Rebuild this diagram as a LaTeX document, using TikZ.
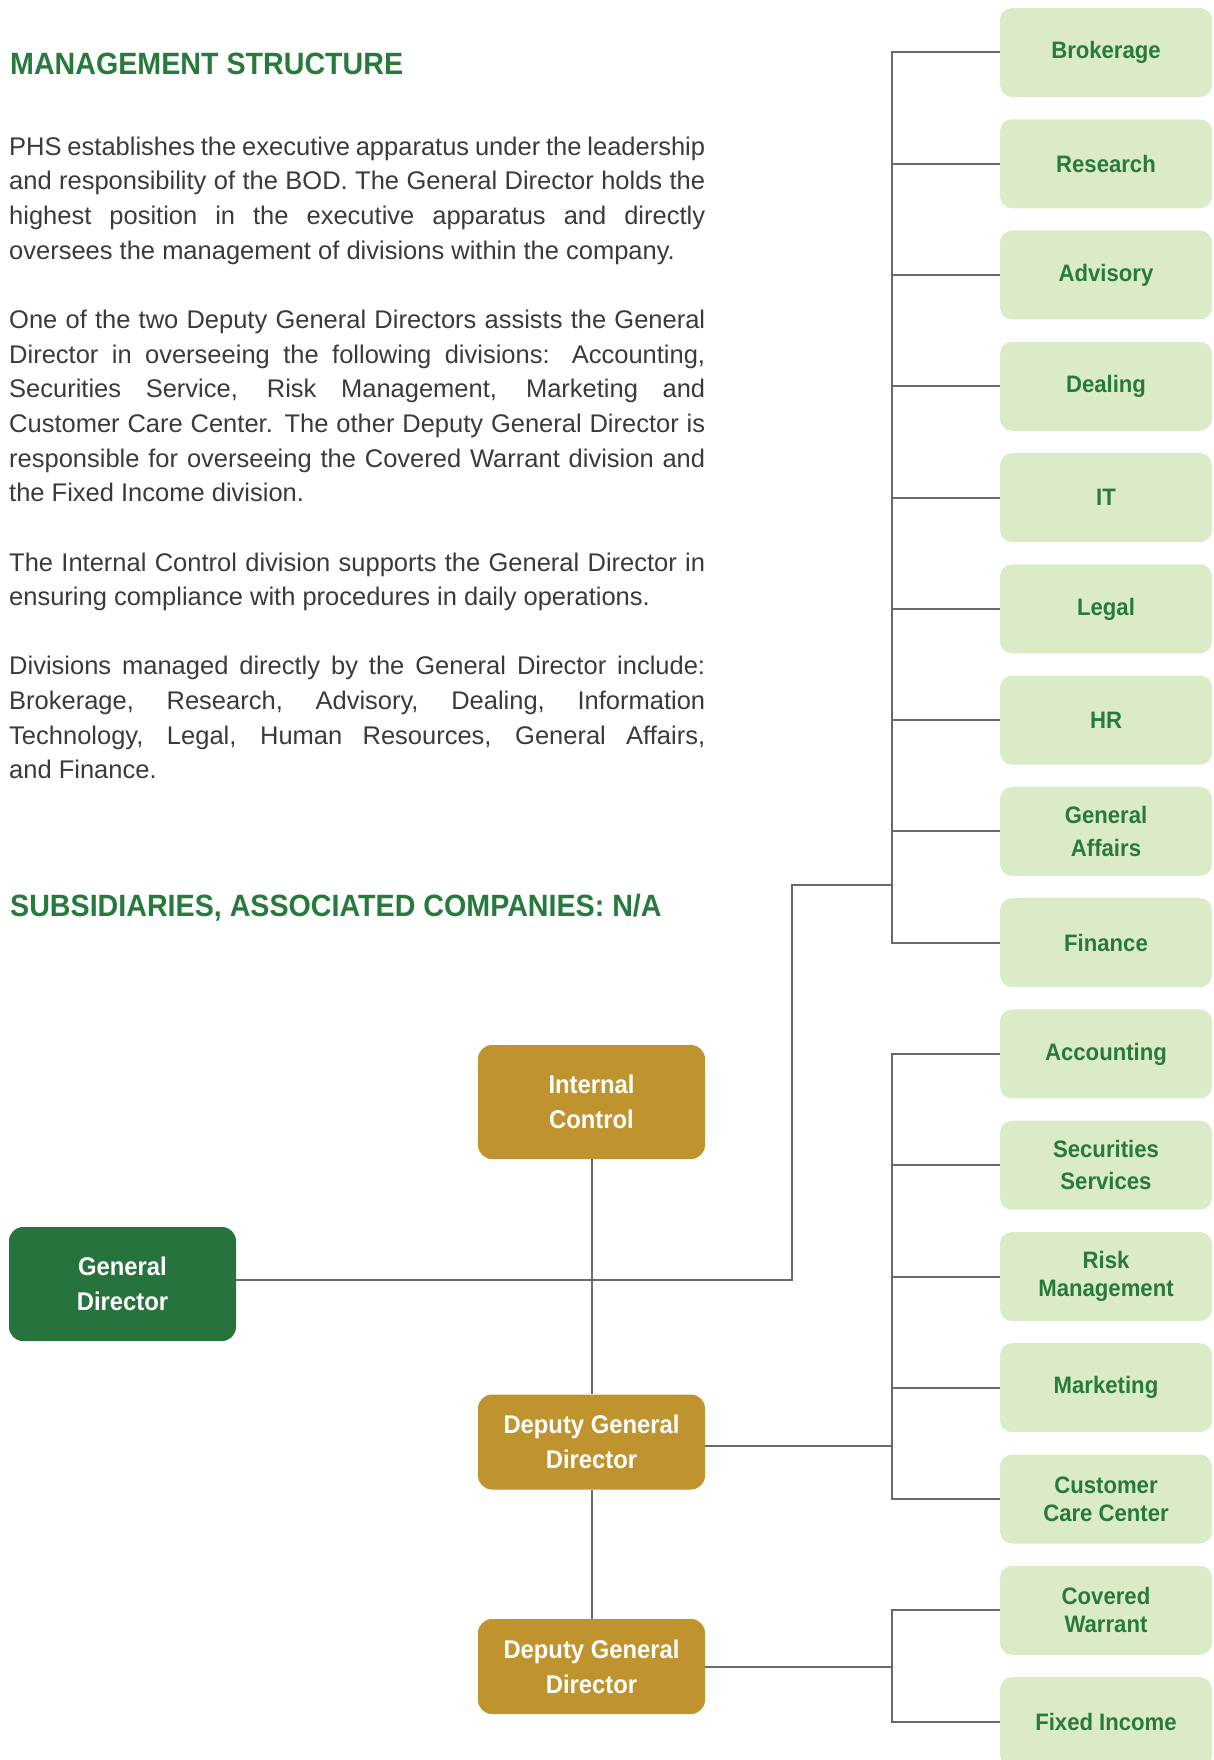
\documentclass[tikz,border=0pt]{standalone}
\usepackage{fontspec}
\setmainfont{Liberation Sans}
\newfontfamily\labelfont{Liberation Sans}[FakeStretch=0.93]
\usetikzlibrary{calc}
\definecolor{dkgreen}{HTML}{26733D}
\definecolor{txtgreen}{HTML}{287A3C}
\definecolor{ltgreen}{HTML}{DCEBC7}
\definecolor{gold}{HTML}{BF942F}
\definecolor{bodygray}{HTML}{3A3A3A}
\definecolor{linegray}{HTML}{6A6A6A}
\newcommand\fullline[1]{\makebox[696pt][s]{#1}}
\begin{document}
\begin{tikzpicture}[x=1pt,y=-1pt,
  divbox/.style={rectangle, rounded corners=12pt, fill=ltgreen, minimum width=212pt, minimum height=89pt, inner sep=0pt, text=txtgreen, font=\labelfont\fontsize{23.8}{28}\selectfont\bfseries, align=center},
  goldbox/.style={rectangle, rounded corners=14pt, fill=gold, minimum width=227pt, inner sep=0pt, text=white, font=\labelfont\fontsize{25.6}{35}\selectfont\bfseries, align=center},
  gdbox/.style={goldbox, fill=dkgreen},
  conn/.style={draw=linegray, line width=2pt},
  heading/.style={anchor=base west, inner sep=0pt, text=txtgreen, font=\labelfont\fontsize{30.8}{36}\selectfont\bfseries},
  bodytext/.style={anchor=base west, inner sep=0pt, text=bodygray, font=\fontsize{25.5}{34.6}\selectfont}
]
\useasboundingbox (0,0) rectangle (1214,1760);
\clip (0,0) rectangle (1214,1760);

% headings
\node[heading] (h1) at (10,74.5) {MANAGEMENT STRUCTURE};
\node[heading] (h2) at (10,916) {SUBSIDIARIES, ASSOCIATED COMPANIES: N/A};

% body text lines (baseline = 155.2 + 34.65 k)
\node[bodytext] (l0) at (9,155.2) {\fullline{PHS establishes the executive apparatus under the leadership}};
\node[bodytext] (l1) at (9,189.85) {\fullline{and responsibility of the BOD. The General Director holds the}};
\node[bodytext] (l2) at (9,224.5) {\fullline{highest position in the executive apparatus and directly}};
\node[bodytext] (l3) at (9,259.15) {oversees the management of divisions within the company.};
\node[bodytext] (l5) at (9,328.45) {\fullline{One of the two Deputy General Directors assists the General}};
\node[bodytext] (l6) at (9,363.1) {\fullline{Director in overseeing the following divisions: Accounting,}};
\node[bodytext] (l7) at (9,397.75) {\fullline{Securities Service, Risk Management, Marketing and}};
\node[bodytext] (l8) at (9,432.4) {\fullline{Customer Care Center. The other Deputy General Director is}};
\node[bodytext] (l9) at (9,467.05) {\fullline{responsible for overseeing the Covered Warrant division and}};
\node[bodytext] (l10) at (9,501.7) {the Fixed Income division.};
\node[bodytext] (l12) at (9,571.0) {\fullline{The Internal Control division supports the General Director in}};
\node[bodytext] (l13) at (9,605.65) {ensuring compliance with procedures in daily operations.};
\node[bodytext] (l15) at (9,674.95) {\fullline{Divisions managed directly by the General Director include:}};
\node[bodytext] (l16) at (9,709.6) {\fullline{Brokerage, Research, Advisory, Dealing, Information}};
\node[bodytext] (l17) at (9,744.25) {\fullline{Technology, Legal, Human Resources, General Affairs,}};
\node[bodytext] (l18) at (9,778.9) {and Finance.};

% division boxes
\node[divbox] (brok) at (1106,52.5) {Brokerage};
\node[divbox] (res) at (1106,163.8) {Research};
\node[divbox] (adv) at (1106,275.0) {Advisory};
\node[divbox] (deal) at (1106,386.3) {Dealing};
\node[divbox] (it) at (1106,497.6) {IT};
\node[divbox] (legal) at (1106,608.9) {Legal};
\node[divbox] (hr) at (1106,720.1) {HR};
\node[divbox, font=\labelfont\fontsize{23.8}{32.5}\selectfont\bfseries] (ga) at (1106,831.4) {General\\Affairs};
\node[divbox] (fin) at (1106,942.7) {Finance};
\node[divbox] (acc) at (1106,1053.9) {Accounting};
\node[divbox, font=\labelfont\fontsize{23.8}{32.5}\selectfont\bfseries] (sec) at (1106,1165.2) {Securities\\Services};
\node[divbox] (risk) at (1106,1276.5) {Risk\\Management};
\node[divbox] (mkt) at (1106,1387.7) {Marketing};
\node[divbox] (ccc) at (1106,1499.0) {Customer\\Care Center};
\node[divbox] (cw) at (1106,1610.3) {Covered\\Warrant};
\node[divbox] (fi) at (1106,1721.6) {Fixed Income};

% management boxes
\node[gdbox, minimum height=114pt] (gd) at (122.5,1284) {General\\Director};
\node[goldbox, minimum height=114pt] (ic) at (591.5,1102) {Internal\\Control};
\node[goldbox, minimum height=95pt] (dep1) at (591.5,1442) {Deputy General\\Director};
\node[goldbox, minimum height=95pt] (dep2) at (591.5,1666.5) {Deputy General\\Director};

% connectors
\draw[conn] (brok.west) -- ++(-108,0) |- (fin.west);
\foreach \n in {res,adv,deal,it,legal,hr,ga} \draw[conn] (\n.west) -- ++(-108,0);
\draw[conn] (acc.west) -- ++(-108,0) |- (ccc.west);
\foreach \n in {sec,risk,mkt} \draw[conn] (\n.west) -- ++(-108,0);
\draw[conn] (cw.west) -- ++(-108,0) |- (fi.west);

\coordinate (jA) at (792,885);
\coordinate (jB) at (892,885);
\draw[conn] ($(gd.east)+(0,-4)$) -| (jA) -- (jB);
\draw[conn] (ic.south) -- (dep1.north);
\draw[conn] (dep1.south) -- (dep2.north);
\draw[conn] ($(dep1.east)+(0,4)$) -- ($(dep1.east -| jB)+(0,4)$);
\draw[conn] (dep2.east) -- (dep2.east -| jB);
\end{tikzpicture}
\end{document}
